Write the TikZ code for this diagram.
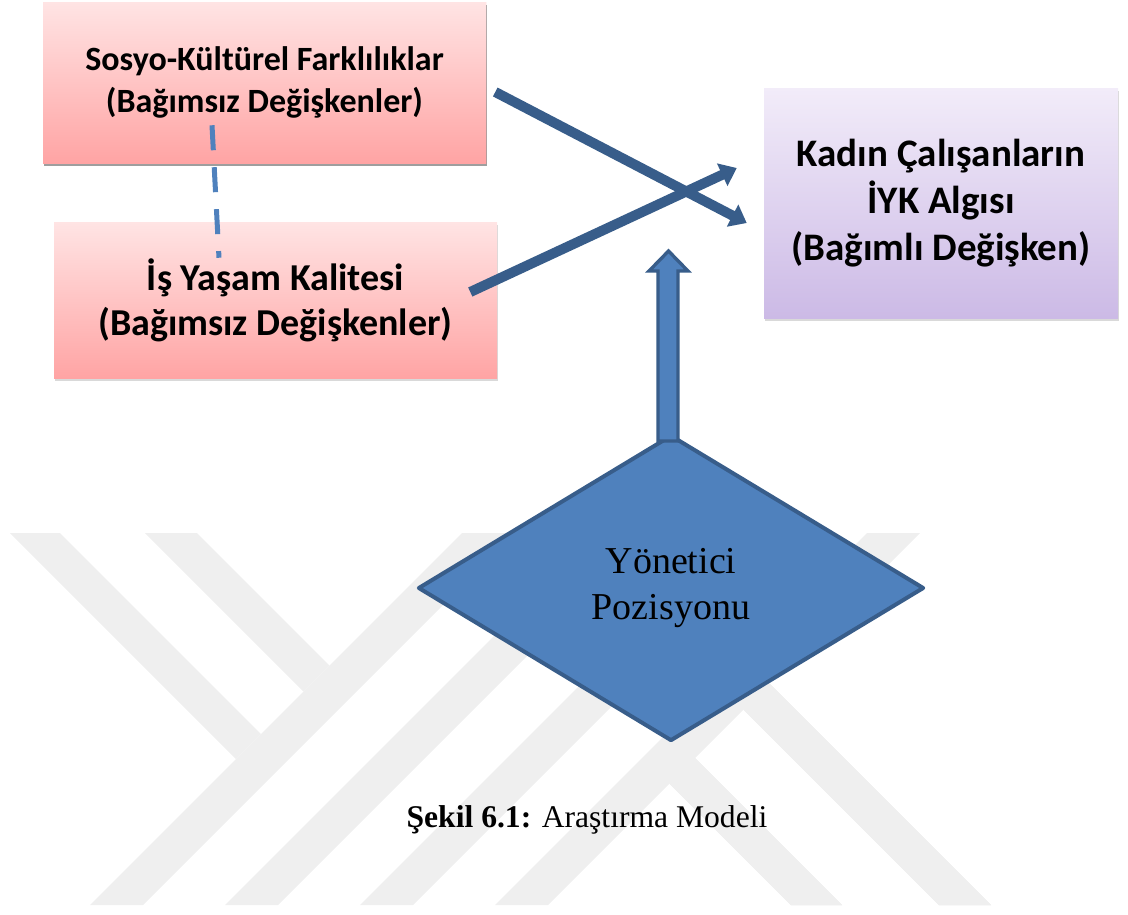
\documentclass[tikz,border=0pt]{standalone}
\usepackage{fontspec}
\setmainfont{Liberation Serif}
\newfontfamily\calibri{Carlito}
\usetikzlibrary{calc,shapes.geometric,shadows,arrows.meta}
\definecolor{wmgray}{RGB}{239,239,239}
\definecolor{pinktop}{RGB}{255,228,228}
\definecolor{pinkbot}{RGB}{255,164,164}
\definecolor{liltop}{RGB}{242,236,249}
\definecolor{lilbot}{RGB}{204,186,230}
\definecolor{darkblue}{RGB}{56,93,138}
\definecolor{midblue}{RGB}{79,129,189}
\tikzset{
  varbox/.style={rectangle, inner sep=0pt, align=center,
    drop shadow={shadow xshift=1pt, shadow yshift=-2.5pt, opacity=0.3}},
  indep/.style={varbox, top color=pinktop, bottom color=pinkbot},
  dep/.style={varbox, top color=liltop, bottom color=lilbot},
  thinarrow/.style={darkblue, line width=7.5pt, -{Triangle[length=12pt,width=18pt]}},
  dashline/.style={midblue, line width=3.75pt, dash pattern=on 18.75pt off 12.75pt},
  blockarrow/.style={draw=darkblue, fill=midblue, line width=2.5pt, line join=miter},
  posdiamond/.style={diamond, draw=darkblue, fill=midblue, line width=3pt, line join=round,
    minimum width=379.5pt, minimum height=229.5pt, inner sep=0pt, align=center,
    font=\fontsize{28.5}{35}\selectfont},
  caption/.style={font=\fontsize{23.7}{28}\selectfont, inner sep=0pt}
}
% one bar of the watermark, corners in px
\newcommand{\wmbar}[4]{\fill[wmgray] #1 -- #2 -- #3 -- #4 -- cycle;}

\begin{document}
\begin{tikzpicture}[x=0.75pt, y=-0.75pt]
\useasboundingbox (0,0) rectangle (1128,914);
% watermark
\wmbar{(10,533)}{(60,533)}{(261,734)}{(236,759)}
\wmbar{(145,533)}{(197,533)}{(329.5,665.5)}{(303.5,691.5)}
\foreach \k in {0,...,3}
  \wmbar{({462+135*\k},533)}{({515+135*\k},533)}{({143+135*\k},905)}{({90+135*\k},905)}
\wmbar{(669.5,783.5)}{(695,758)}{(842,905)}{(791,905)}
\wmbar{(743.5,709.5)}{(769.5,683.5)}{(991,905)}{(939,905)}
% variables
\node[indep, minimum width=332.25pt, minimum height=120.75pt,
  font=\calibri\bfseries\fontsize{25.5}{31.5}\selectfont] (sosyo) at (264.5,82.5)
  {Sosyo-Kültürel Farklılıklar\\(Bağımsız Değişkenler)};
\node[indep, minimum width=332.25pt, minimum height=117pt,
  font=\calibri\bfseries\fontsize{28.5}{33.75}\selectfont] (isyasam) at (275.5,300)
  {İş Yaşam Kalitesi\\(Bağımsız Değişkenler)};
\node[dep, minimum width=265.5pt, minimum height=172.5pt,
  font=\calibri\bfseries\fontsize{29.25}{35.25}\selectfont] (iyk) at (941,203)
  {Kadın Çalışanların\\İYK Algısı\\(Bağımlı Değişken)};
% links
\draw[dashline] ($(sosyo.south)+(-52.5,-38)$) -- ($(isyasam.north)+(-56.5,36)$);
\draw[thinarrow] ($(sosyo.east)+(9,9.5)$) -- ($(iyk.west)+(-17,20)$);
\draw[thinarrow] ($(isyasam.east)+(-27,-8)$) -- ($(iyk.west)+(-27,-35)$);
% moderator
\node[posdiamond] (poz) at (671,588) {Yönetici\\Pozisyonu};
\draw[blockarrow] ($(poz.north)+(-13,8)$) -- ++(0,-170) -- ++(-9,0) -- ++(19.5,-20)
  -- ++(19.5,20) -- ++(-10,0) -- ++(0,170) -- cycle;
% caption
\node[caption] (cap) at (587,820) {\textbf{Şekil 6.1:} Araştırma Modeli};
\end{tikzpicture}
\end{document}
